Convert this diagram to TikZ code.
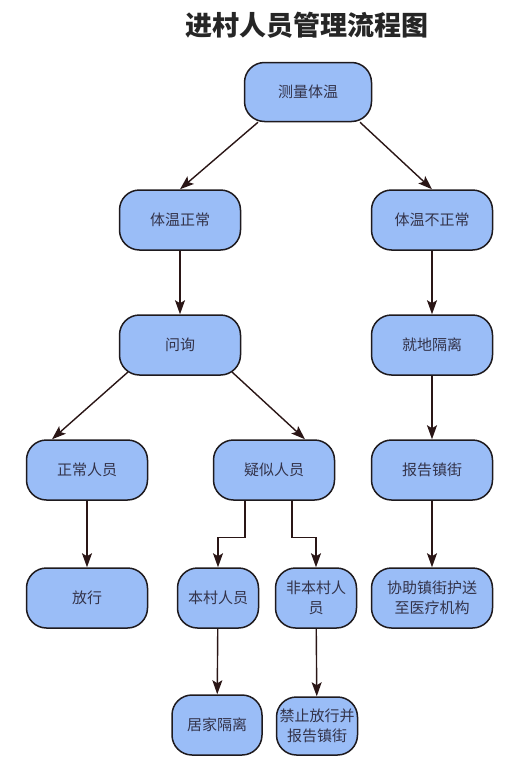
\documentclass[tikz,border=0pt]{standalone}
\usepackage{fontspec}
\setmainfont{Noto Sans CJK SC}
\usepackage{xcolor}
\usetikzlibrary{arrows.meta}
\definecolor{boxfill}{HTML}{9ABDF7}
\definecolor{boxline}{HTML}{1E1A1E}
\definecolor{txt}{HTML}{33334A}
\definecolor{arrowc}{HTML}{2A1616}
\tikzset{
  box/.style={draw=boxline, fill=boxfill, line width=1.5pt, rounded corners=20pt,
    minimum width=121pt, minimum height=60pt, inner sep=2pt, align=center,
    text=txt, font=\fontsize{15}{20}\selectfont},
  smallbox/.style={box, minimum width=81pt},
  arr/.style={draw=arrowc, line width=1.4pt, -{Stealth[length=14pt,width=10pt,inset=3pt]}},
  ttl/.style={text=black!85, font=\bfseries\fontsize{27}{30}\selectfont}
}

\begin{document}
\begin{tikzpicture}[x=1pt,y=-1pt]
  \useasboundingbox (0,0) rectangle (512,763);

  \node[ttl] (title) at (307,25) {进村人员管理流程图};

  \node[box, minimum width=127pt, minimum height=59pt] (temp) at (308,92) {测量体温};
  \node[box] (ok) at (180,220) {体温正常};
  \node[box] (bad) at (432,220) {体温不正常};
  \node[box] (ask) at (180,345) {问询};
  \node[box] (iso) at (432,345) {就地隔离};
  \node[box] (normal) at (87,470) {正常人员};
  \node[box] (sus) at (274,470) {疑似人员};
  \node[box] (report) at (432,470) {报告镇街};
  \node[box] (pass) at (87,598) {放行};
  \node[smallbox] (local) at (218,598) {本村人员};
  \node[smallbox] (nonlocal) at (316,598) {非本村人\\员};
  \node[box] (escort) at (432,598) {协助镇街护送\\至医疗机构};
  \node[smallbox, minimum width=90pt] (home) at (217,725) {居家隔离};
  \node[smallbox, minimum height=58pt] (ban) at (317,726) {禁止放行并\\报告镇街};

  \draw[arr] ([xshift=-50pt]temp.south) -- (ok.north);
  \draw[arr] ([xshift=52pt]temp.south) -- (bad.north);
  \draw[arr] (ok) -- (ask);
  \draw[arr] (bad) -- (iso);
  \draw[arr] (iso) -- (report);
  \draw[arr] (report) -- (escort);
  \draw[arr] ([xshift=-52pt,yshift=-27pt]ask.center) -- ([xshift=-35pt]normal.north);
  \draw[arr] ([xshift=52pt,yshift=-27pt]ask.center) -- ([xshift=31pt]sus.north);
  \draw[arr] (normal) -- (pass);
  \draw[arr] ([xshift=-29pt]sus.south) -- ++(0,37) -| (local.north);
  \draw[arr] ([xshift=18pt]sus.south) -- ++(0,37) -| (nonlocal.north);
  \draw[arr] (local) -- (home);
  \draw[arr] (nonlocal) -- (ban);
\end{tikzpicture}
\end{document}
